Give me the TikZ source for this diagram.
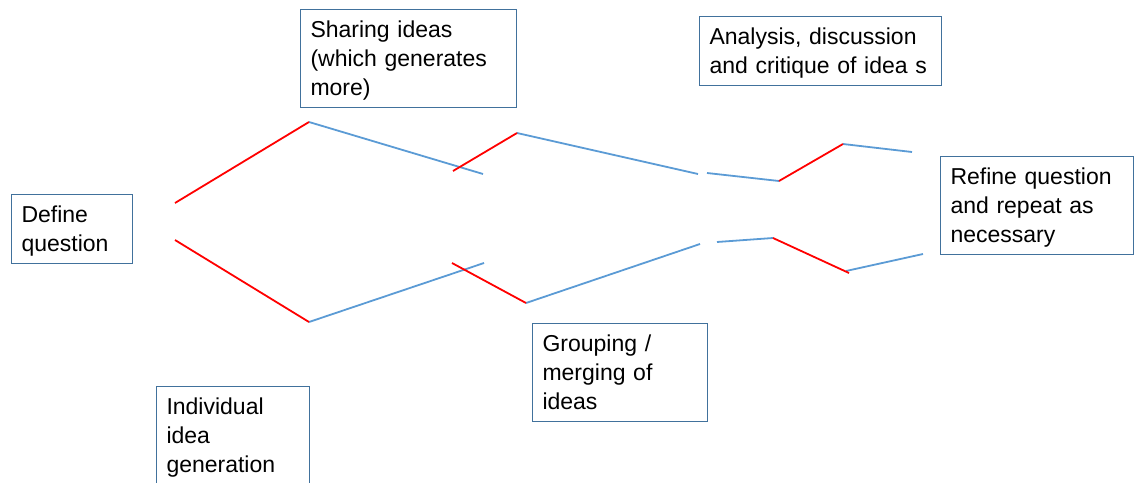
\documentclass[tikz,border=0pt]{standalone}
\usepackage{fontspec}
\setmainfont{Liberation Sans}
\definecolor{boxblue}{HTML}{41719C}
\definecolor{pathblue}{HTML}{5B9BD5}
\definecolor{pathred}{HTML}{FF0000}
\tikzset{
  stagebox/.style={draw=boxblue, line width=1pt, anchor=north west, align=left,
    inner xsep=10pt, inner ysep=5.5pt, font=\fontsize{23}{29}\selectfont,
    execute at begin node={\rule{0pt}{22.3pt}},
    execute at end node={\rule[-6.7pt]{0pt}{6.7pt}}},
  redline/.style={pathred, line width=1.8pt},
  blueline/.style={pathblue, line width=1.8pt}
}

\begin{document}
\begin{tikzpicture}[x=1pt, y=-1pt]
  \useasboundingbox (0,0) rectangle (1134,482);
  % stages
  \node[stagebox, text width=101pt] (define) at (11,194) {Define\\question};
  \node[stagebox, text width=133pt] (individual) at (156,386) {Individual\\idea\\generation};
  \node[stagebox, text width=196pt] (sharing) at (300,9) {Sharing ideas\\(which generates\\more)};
  \node[stagebox, text width=222pt] (analysis) at (699,16) {Analysis, discussion\\and critique of idea s};
  \node[stagebox, text width=155pt] (grouping) at (532,323) {Grouping /\\merging of\\ideas};
  \node[stagebox, text width=173pt] (refine) at (940,156) {Refine question\\and repeat as\\necessary};
  % upper branch
  \coordinate (u1) at (175,203); \coordinate (u2) at (309,122); \coordinate (u3) at (483,174);
  \coordinate (u4) at (453,171); \coordinate (u5) at (517,133); \coordinate (u6) at (698,174);
  \coordinate (u7) at (707,173); \coordinate (u8) at (779,181); \coordinate (u9) at (843,144);
  \coordinate (u10) at (912,152);
  % lower branch
  \coordinate (l1) at (175,240); \coordinate (l2) at (309,322); \coordinate (l3) at (484,263);
  \coordinate (l4) at (452,263); \coordinate (l5) at (526,303); \coordinate (l6) at (700,244);
  \coordinate (l7) at (717,242); \coordinate (l8) at (773,238); \coordinate (l9) at (849,273);
  \coordinate (l10) at (846,271); \coordinate (l11) at (923,254);
  % blue = converging, red = diverging
  \draw[blueline] (u2) -- (u3) (u5) -- (u6) (u7) -- (u8) (u9) -- (u10);
  \draw[blueline] (l2) -- (l3) (l5) -- (l6) (l7) -- (l8) (l10) -- (l11);
  \draw[redline] (u1) -- (u2) (u4) -- (u5) (u8) -- (u9);
  \draw[redline] (l1) -- (l2) (l4) -- (l5) (l8) -- (l9);
\end{tikzpicture}
\end{document}
